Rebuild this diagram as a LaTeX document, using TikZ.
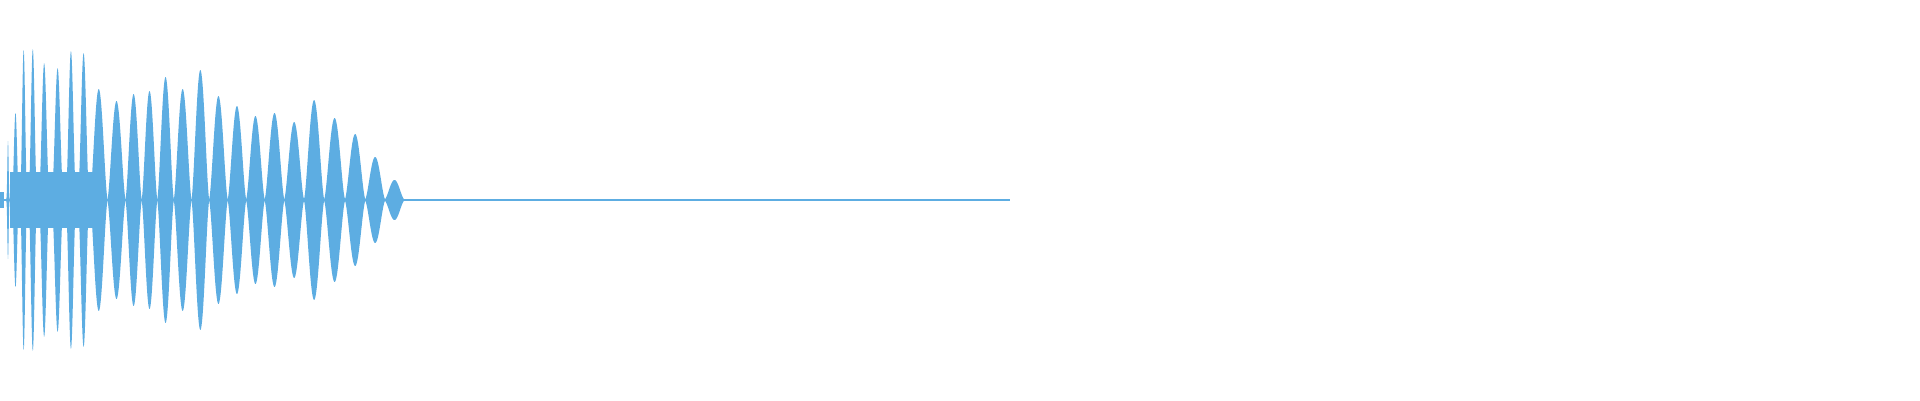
\documentclass[tikz,border=0pt]{standalone}
\begin{document}
\begin{tikzpicture}[x=1pt,y=1pt]
\definecolor{wave}{HTML}{5DADE2}
\tikzset{lobe/.style={fill=wave,draw=none}}
\useasboundingbox (0,0) rectangle (1920,400);
\fill[wave] (0,192) rectangle (4,208);
\fill[wave] (10,172) rectangle (95,228);
\foreach \l/\r/\a/\p in {6/10/58/4,12/19/86/2,19.5/27.8/149/3,27.8/37.8/150/3,37.8/50.5/136/3,50.5/64.7/131/3,64.7/77.2/148/3,77.2/90/146/2.5,90/107.5/110/1.5,107.5/125.5/98/1.5,125.5/141.7/105/1.5,141.7/157.3/108/1.5,157.3/173.8/122/1.5,173.8/191.5/110/1.5,191.5/209.2/129/1.5,209.2/227.7/103/1.5,227.7/246.2/93/1.5,246.2/264.7/83/1.5,264.7/284.3/86/1.5,284.3/304/77/1.5,304/324.2/99/1.5,324.2/345/81/1.5,345/365.3/65/1.5,365.3/385/42/1.5,385/404/19/1.5}{
  \fill[lobe] plot[domain=0:1,samples=40,smooth] ({\l+(\r-\l)*\x},{200+\a*pow(sin(180*\x),\p)+1})
    -- plot[domain=1:0,samples=40,smooth] ({\l+(\r-\l)*\x},{200-\a*pow(sin(180*\x),\p)-1}) -- cycle;
}
\draw[wave,line width=1.2pt] (0,200) -- (1010,200);
\end{tikzpicture}
\end{document}
